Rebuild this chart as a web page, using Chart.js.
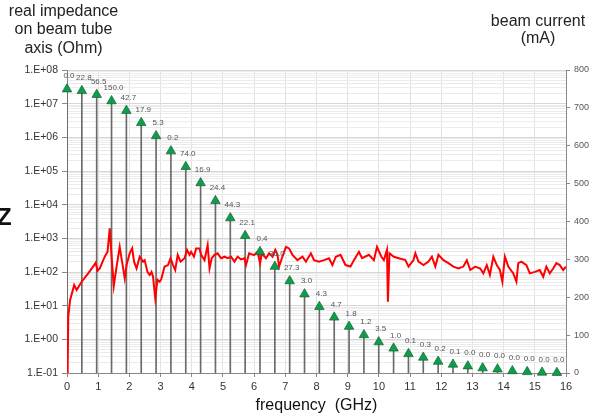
<!DOCTYPE html>
<html>
<head>
<meta charset="utf-8">
<title>Impedance and beam current</title>
<script src="https://cdn.jsdelivr.net/npm/chart.js@4.4.1/dist/chart.umd.min.js"></script>
<style>
  body { margin: 0; background: #fff; font-family: "Liberation Sans", Arial, sans-serif; }
  #wrap { position: relative; width: 607px; height: 418px; overflow: hidden; }
  #grafico { position: absolute; left: 0; top: 0; }
  .titulo { position: absolute; font-size: 16px; line-height: 18.3px; color: #222; text-align: center; white-space: nowrap; }
  #tituloIzq { left: 0; top: 2px; width: 127px; }
  #tituloDer { left: 478px; top: 12px; width: 120px; line-height: 17px; }
  #letraZ { position: absolute; left: -3px; top: 205px; font-size: 24px; line-height: 24px; font-weight: bold; color: #111; }
</style>
</head>
<body>
<div id="wrap">
  <canvas id="grafico" width="607" height="418"></canvas>
  <div class="titulo" id="tituloIzq">real impedance<br>on beam tube<br>axis (Ohm)</div>
  <div class="titulo" id="tituloDer">beam current<br>(mA)</div>
  <div id="letraZ">Z</div>
</div>
<script>
// armónicos de 476 MHz: frecuencia, impedancia real y valor anotado sobre cada marca
var armonicosGHz = [0, 0.476, 0.952, 1.428, 1.904, 2.380, 2.856, 3.332, 3.808, 4.284,
  4.760, 5.236, 5.712, 6.188, 6.664, 7.140, 7.616, 8.092, 8.568, 9.044,
  9.520, 9.996, 10.472, 10.948, 11.424, 11.900, 12.376, 12.852, 13.328, 13.804,
  14.280, 14.756, 15.232, 15.708];
var impedanciaOhm = [2.7e7, 2.4e7, 1.85e7, 1.2e7, 6.2e6, 2.7e6, 1.1e6, 3.9e5, 1.34e5, 4.4e4,
  1.3e4, 4.0e3, 1.2e3, 400, 145, 54, 22, 9.3, 4.5, 2.4,
  1.35, 0.83, 0.54, 0.37, 0.29, 0.22, 0.18, 0.16, 0.14, 0.13,
  0.115, 0.108, 0.104, 0.102];
var etiquetas = ['0.0', '22.8', '56.5', '150.0', '42.7', '17.9', '5.3', '0.2', '74.0', '16.9',
  '24.4', '44.3', '22.1', '0.4', '36.0', '27.3', '3.0', '4.3', '4.7', '1.8',
  '1.2', '3.5', '1.0', '0.1', '0.3', '0.2', '0.1', '0.0', '0.0', '0.0',
  '0.0', '0.0', '0.0', '0.0'];

// corriente de haz medida (eje derecho)
var corrienteGHz = [0.02, 0.04, 0.10, 0.23, 0.31, 0.47, 0.68, 0.87, 0.92, 0.98,
  1.05, 1.21, 1.30, 1.37, 1.43, 1.50, 1.59, 1.69, 1.85, 1.91,
  2.01, 2.09, 2.15, 2.23, 2.33, 2.44, 2.49, 2.58, 2.65, 2.71,
  2.76, 2.83, 2.90, 2.97, 3.02, 3.13, 3.24, 3.32, 3.40, 3.47,
  3.55, 3.64, 3.77, 3.85, 3.93, 3.98, 4.07, 4.14, 4.25, 4.30,
  4.41, 4.51, 4.57, 4.64, 4.73, 4.83, 4.94, 5.05, 5.15, 5.26,
  5.37, 5.47, 5.58, 5.69, 5.74, 5.84, 6.00, 6.11, 6.19, 6.25,
  6.38, 6.48, 6.59, 6.68, 6.75, 6.80, 6.89, 7.02, 7.12, 7.23,
  7.39, 7.55, 7.66, 7.82, 7.92, 8.08, 8.24, 8.40, 8.51, 8.62,
  8.77, 8.93, 9.09, 9.20, 9.36, 9.46, 9.68, 9.84, 9.94, 10.08,
  10.16, 10.26, 10.29, 10.34, 10.48, 10.64, 10.85, 10.95, 11.11, 11.17,
  11.27, 11.43, 11.59, 11.70, 11.81, 11.91, 12.07, 12.23, 12.39, 12.55,
  12.71, 12.82, 12.93, 13.09, 13.25, 13.35, 13.46, 13.56, 13.67, 13.78,
  13.88, 13.96, 14.04, 14.15, 14.31, 14.41, 14.47, 14.57, 14.73, 14.84,
  15.00, 15.16, 15.27, 15.37, 15.48, 15.59, 15.69, 15.80, 15.91, 16.00];
var corrienteMA = [0, 149, 193, 232, 219, 241, 263, 285, 291, 270,
  276, 307, 320, 382, 307, 230, 281, 333, 250, 285,
  316, 329, 294, 276, 307, 294, 298, 267, 259, 267,
  254, 197, 246, 241, 247, 281, 285, 303, 285, 272,
  312, 294, 303, 325, 312, 320, 307, 329, 329, 312,
  298, 338, 276, 303, 312, 316, 303, 307, 303, 307,
  294, 307, 300, 303, 285, 316, 311, 320, 290, 316,
  303, 316, 307, 325, 312, 281, 303, 333, 329, 312,
  298, 307, 294, 316, 298, 294, 298, 303, 285, 307,
  312, 285, 281, 298, 320, 303, 312, 298, 333, 307,
  298, 325, 188, 316, 307, 303, 298, 281, 298, 316,
  294, 285, 294, 307, 281, 312, 298, 290, 281, 276,
  281, 298, 272, 281, 276, 263, 285, 259, 307, 285,
  272, 241, 307, 281, 263, 241, 290, 294, 285, 263,
  267, 272, 254, 281, 263, 276, 290, 285, 272, 281];

// décadas del eje logarítmico y sus rótulos
var decadas = [-1, 0, 1, 2, 3, 4, 5, 6, 7, 8];
var rotulosImpedancia = ['1.E-01', '1.E+00', '1.E+01', '1.E+02', '1.E+03', '1.E+04', '1.E+05', '1.E+06', '1.E+07', '1.E+08'];

var valoresRejilla = [];
decadas.forEach(function (e, i) {
  var tope = i === decadas.length - 1 ? 1 : 9;
  for (var m = 1; m <= tope; m++) {
    valoresRejilla.push(m * Math.pow(10, e));
  }
});

function esDecada(v) {
  var l = Math.log10(v);
  return Math.abs(l - Math.round(l)) < 1e-6;
}

var puntosImpedancia = armonicosGHz.map(function (f, i) { return { x: f, y: impedanciaOhm[i] }; });
var tallos = armonicosGHz.map(function (f, i) { return { x: f, y: [0.1, impedanciaOhm[i]] }; });
var puntosCorriente = corrienteGHz.map(function (f, i) { return { x: f, y: corrienteMA[i] }; });

var etiquetasPlugin = {
  id: 'etiquetasArmonicos',
  afterDatasetsDraw: function (chart) {
    var meta = chart.getDatasetMeta(0);
    var ctx = chart.ctx;
    ctx.save();
    ctx.font = '8px "Liberation Sans", Arial, sans-serif';
    ctx.fillStyle = '#555';
    ctx.textAlign = 'center';
    ctx.textBaseline = 'middle';
    meta.data.forEach(function (pt, i) {
      ctx.fillText(etiquetas[i], pt.x + 2, pt.y - 13);
    });
    ctx.restore();
  }
};

Chart.defaults.font.family = '"Liberation Sans", Arial, sans-serif';

new Chart(document.getElementById('grafico'), {
  type: 'line',
  data: {
    datasets: [
      {
        label: 'impedance',
        data: puntosImpedancia,
        showLine: false,
        pointStyle: 'triangle',
        pointRadius: 5.5,
        backgroundColor: '#0a9f4a',
        borderColor: '#1d5e30',
        borderWidth: 0.7,
        clip: false,
        order: 0
      },
      {
        label: 'beam current',
        data: puntosCorriente,
        yAxisID: 'y2',
        borderColor: '#ff0000',
        borderWidth: 2,
        pointRadius: 0,
        tension: 0,
        order: 1
      },
      {
        type: 'bar',
        label: 'stems',
        data: tallos,
        backgroundColor: '#6a6a6a',
        barThickness: 1,
        order: 2
      }
    ]
  },
  options: {
    responsive: false,
    animation: false,
    events: [],
    layout: { padding: { top: 70, left: 0, right: 0, bottom: 0 } },
    plugins: {
      legend: { display: false },
      tooltip: { enabled: false }
    },
    scales: {
      x: {
        type: 'linear',
        min: 0,
        max: 16,
        offset: false,
        ticks: { stepSize: 1, color: '#333', font: { size: 11 }, padding: 3, maxRotation: 0 },
        grid: { color: '#e2e2e2', offset: false, tickLength: 4, tickColor: '#888' },
        border: { color: '#888' },
        title: {
          display: true,
          text: 'frequency  (GHz)',
          color: '#111',
          font: { size: 16 },
          padding: { top: 0, bottom: 3 }
        },
        afterFit: function (scale) { scale.height = 45; }
      },
      y: {
        type: 'logarithmic',
        position: 'left',
        min: 0.1,
        max: 1e8,
        afterBuildTicks: function (scale) {
          scale.ticks = valoresRejilla.map(function (v) { return { value: v }; });
        },
        ticks: {
          autoSkip: false,
          color: '#333',
          font: { size: 10.5 },
          padding: 4,
          callback: function (v) {
            if (!esDecada(v)) return '';
            return rotulosImpedancia[decadas.indexOf(Math.round(Math.log10(v)))];
          }
        },
        grid: {
          color: function (c) { return c.tick && esDecada(c.tick.value) ? '#d6d6d6' : '#ebebeb'; },
          tickColor: function (c) { return c.tick && esDecada(c.tick.value) ? '#888' : 'rgba(0,0,0,0)'; },
          tickLength: 5
        },
        border: { color: '#888' },
        afterFit: function (scale) { scale.width = 67; }
      },
      y2: {
        type: 'linear',
        position: 'right',
        min: 0,
        max: 800,
        ticks: { stepSize: 100, color: '#555', font: { size: 9 }, padding: 4 },
        grid: { drawOnChartArea: false, tickLength: 4, tickColor: '#888' },
        border: { color: '#888' },
        afterFit: function (scale) { scale.width = 41; }
      }
    }
  },
  plugins: [etiquetasPlugin]
});
</script>
</body>
</html>
